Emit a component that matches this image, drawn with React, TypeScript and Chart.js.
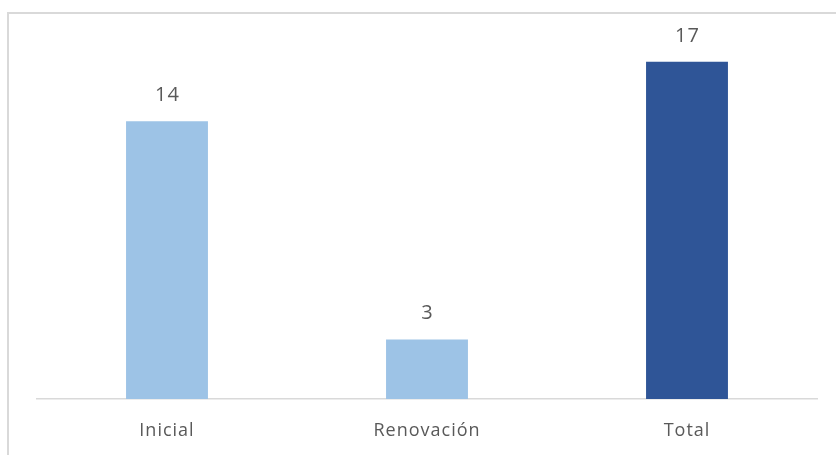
import React, { useEffect, useRef } from "react";
import { Chart, registerables } from "chart.js";

Chart.register(...registerables);

const categories = ["Inicial", "Renovación", "Total"];
const values = [14, 3, 17];
const barColors = ["#9DC3E6", "#9DC3E6", "#2F5597"];

const FONT = "'Open Sans', 'Noto Sans', sans-serif";

export default function App() {
  const ref = useRef<HTMLCanvasElement | null>(null);

  useEffect(() => {
    document.body.style.margin = "0";
    const canvas = ref.current;
    if (!canvas) return;
    const spacingPlugin = {
      id: "spacing",
      beforeDraw(chart: any) {
        (chart.ctx as any).letterSpacing = "1px";
      },
    };
    const labelPlugin = {
      id: "valueLabels",
      afterDatasetsDraw(chart: any) {
        const ctx = chart.ctx;
        const meta = chart.getDatasetMeta(0);
        ctx.save();
        (ctx as any).letterSpacing = "1px";
        ctx.font = `20px ${FONT}`;
        ctx.fillStyle = "#595959";
        ctx.textAlign = "center";
        ctx.textBaseline = "middle";
        meta.data.forEach((bar: any, i: number) => {
          ctx.fillText(String(values[i]), bar.x + 0.5, bar.y - 26);
        });
        ctx.restore();
      },
    };
    const chart = new Chart(canvas, {
      type: "bar",
      data: {
        labels: categories,
        datasets: [
          {
            data: values,
            backgroundColor: barColors,
            categoryPercentage: 1,
            barPercentage: 0.315,
          },
        ],
      },
      options: {
        animation: false,
        responsive: false,
        maintainAspectRatio: false,
        layout: { padding: { left: 37, right: 19, top: 42, bottom: 0 } },
        plugins: { legend: { display: false }, tooltip: { enabled: false } },
        scales: {
          x: {
            grid: { display: false, drawTicks: false },
            border: { display: true, color: "#D9D9D9", width: 1.5 },
            ticks: {
              color: "#595959",
              font: { family: FONT, size: 18 },
              padding: 21,
            },
            afterFit(scale: any) {
              scale.height = 56;
            },
          },
          y: {
            display: false,
            min: 0,
            max: 18,
          },
        },
      },
      plugins: [spacingPlugin, labelPlugin],
    });
    return () => chart.destroy();
  }, []);

  return (
    <div style={{ position: "relative", width: 836, height: 455, overflow: "hidden", background: "#fff" }}>
      <div
        style={{
          position: "absolute",
          left: 7,
          top: 12,
          width: 900,
          height: 500,
          border: "2px solid #D9D9D9",
          boxSizing: "border-box",
        }}
      />
      <canvas ref={ref} width={836} height={455} style={{ position: "absolute", left: 0, top: 0 }} />
    </div>
  );
}
